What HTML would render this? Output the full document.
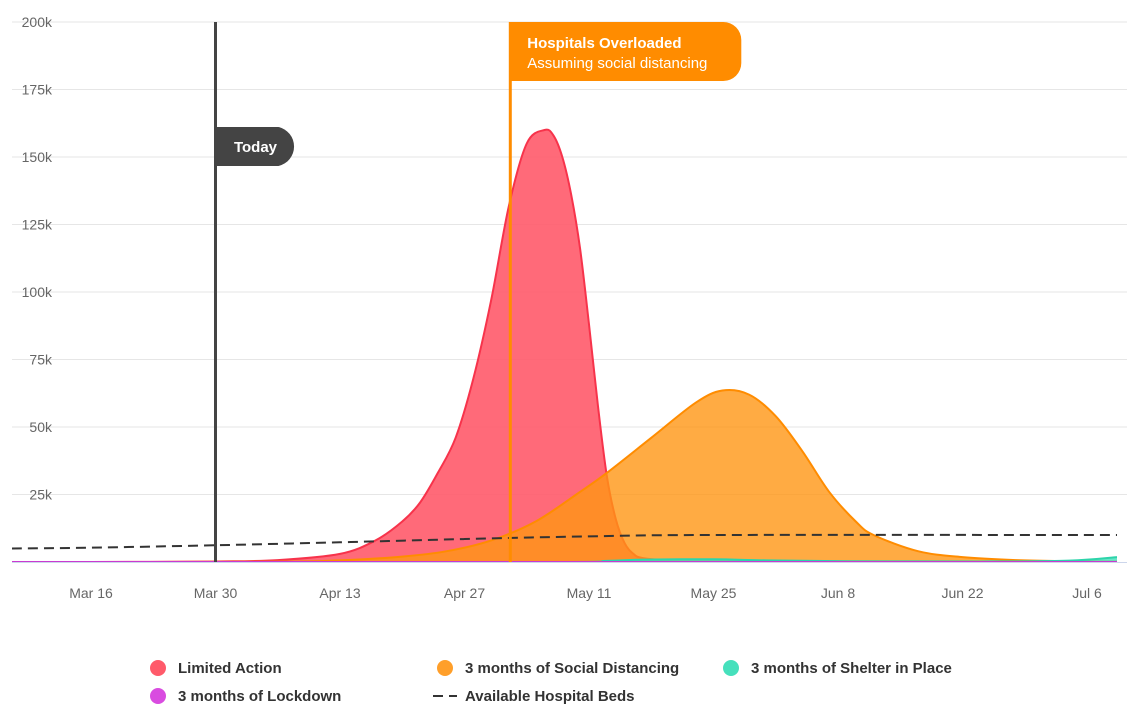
<!DOCTYPE html>
<html><head><meta charset="utf-8"><style>
body{margin:0;background:#fff;font-family:"Liberation Sans",sans-serif}
svg text{font-family:"Liberation Sans",sans-serif}
</style></head><body>
<svg id="chart" width="1135" height="718" viewBox="0 0 1135 718" xmlns="http://www.w3.org/2000/svg">
<g id="grid"></g><g id="series"></g><g id="axes"></g><g id="annot"></g><g id="legend"></g>
</svg>
<script>
const xTickLabels=["Mar 16","Mar 30","Apr 13","Apr 27","May 11","May 25","Jun 8","Jun 22","Jul 6"];
const yTicks=[0,25000,50000,75000,100000,125000,150000,175000,200000];
const yTickLabels=["","25k","50k","75k","100k","125k","150k","175k","200k"];
// days offset from Mar 16
const limitedDays=[-9,0,14,21,28,32,35,37,39,41,43,45,47,49,51,52,53,54,55,56,57,58,59,60,61,62,65,75,90,116];
const limitedVals=[0,0,200,700,3000,8000,15000,22000,33000,46000,68000,97000,132000,155000,160000,158000,150000,136000,116000,88000,58000,32000,16000,7000,3000,1500,800,300,100,0];
const socialDays=[-9,20,28,35,40,45,50,55,58,63,68,71,74,77,80,83,86,88,93,98,104,110,116];
const socialVals=[0,100,600,2000,4000,8000,15000,26000,33000,46000,59000,63500,62000,54000,41000,26000,15000,10000,4000,1800,700,300,200];
const shelterDays=[-9,50,58,62,70,76,85,100,110,116];
const shelterVals=[0,0,400,900,1000,600,300,200,500,1800];
const lockdownDays=[-9,116];
const lockdownVals=[0,0];
const bedsDays=[-9,0,14,28,42,56,70,116];
const bedsVals=[5000,5300,6200,7300,8500,9500,10000,10000];
const todayDay=14, overloadDay=47.15;

const X0=91, PXD=124.5/14, Y0=562, PYU=540/200000, L=12, R=1117;
const x=d=>X0+d*PXD, y=v=>Y0-v*PYU;
const NS="http://www.w3.org/2000/svg";
function el(t,a,p){const e=document.createElementNS(NS,t);for(const k in a)e.setAttribute(k,a[k]);if(p)p.appendChild(e);return e;}
function clampX(v){return Math.max(L,Math.min(R,v));}
function pathD(ds,vs){
  const p=ds.map((d,i)=>[clampX(x(d)),y(vs[i])]);
  let s="M"+p[0][0]+","+p[0][1];
  for(let i=0;i<p.length-1;i++){
    const p0=p[Math.max(0,i-1)],p1=p[i],p2=p[i+1],p3=p[Math.min(p.length-1,i+2)];
    const c1x=p1[0]+(p2[0]-p0[0])/6,c1y=p1[1]+(p2[1]-p0[1])/6;
    const c2x=p2[0]-(p3[0]-p1[0])/6,c2y=p2[1]-(p3[1]-p1[1])/6;
    s+=` C${c1x},${Math.min(Y0,c1y)} ${c2x},${Math.min(Y0,c2y)} ${p2[0]},${p2[1]}`;
  }
  return {s,first:p[0][0],last:p[p.length-1][0]};
}
const grid=document.getElementById('grid'),axes=document.getElementById('axes'),ser=document.getElementById('series'),an=document.getElementById('annot'),lg=document.getElementById('legend');
yTicks.forEach((v,i)=>{
  if(i>0){const g=el('line',{x1:L,x2:R+10,y1:y(v),y2:y(v),stroke:'#e6e6e6'},grid);
  }
  if(yTickLabels[i]){
  const t=el('text',{x:52,y:y(v)+5,'text-anchor':'end','font-size':14,fill:'#666'},axes);t.textContent=yTickLabels[i];
  }
});
const ax=el('line',{x1:L,x2:R+10,y1:Y0+0.5,y2:Y0+0.5,stroke:'#ccd6eb'},axes);

xTickLabels.forEach((lb,i)=>{
  const t=el('text',{x:x(i*14),y:598,'text-anchor':'middle','font-size':14,fill:'#666'},axes);t.textContent=lb;
  
});
function area(ds,vs,fill,stroke,op,name){
  const p=pathD(ds,vs);
  const a=el('path',{d:p.s+` L${p.last},${Y0} L${p.first},${Y0} Z`,fill:fill,'fill-opacity':op,stroke:'none'},ser);
  
  const l=el('path',{d:p.s,fill:'none',stroke:stroke,'stroke-width':2},ser);
  
}
area(limitedDays,limitedVals,'#ff5a6a','#f7334b',0.9,'limited-action');
area(socialDays,socialVals,'#ff9614','#ff8c00',0.8,'social-distancing');
area(shelterDays,shelterVals,'#46e0bc','#2dd4aa',0.8,'shelter-in-place');
area(lockdownDays,lockdownVals,'#d94ce0','#c93ad0',0.8,'lockdown');
const bp=pathD(bedsDays,bedsVals);
const bl=el('path',{d:bp.s,fill:'none',stroke:'#333','stroke-width':2,'stroke-dasharray':'10,6'},ser);

// annotations
const tl=el('line',{x1:x(todayDay),x2:x(todayDay),y1:22,y2:Y0,stroke:'#444','stroke-width':3},an);

const tx=x(todayDay);
const tf=el('path',{d:`M${tx},127 H${tx+63} A20,20 0 0 1 ${tx+63},166 H${tx} Z`,fill:'#444'},an);

const tt=el('text',{x:tx+40,y:152,'text-anchor':'middle','font-size':15,'font-weight':'bold',fill:'#fff'},an);tt.textContent='Today';

const ox=x(overloadDay);
const ol=el('line',{x1:ox,x2:ox,y1:22,y2:Y0,stroke:'#ff8c00','stroke-width':3},an);

const of=el('path',{d:`M${ox-1},22 H${ox+213} A18,18 0 0 1 ${ox+231},40 V63 A18,18 0 0 1 ${ox+213},81 H${ox-1} Z`,fill:'#ff8c00'},an);

const o1=el('text',{x:ox+17,y:48,'font-size':15,'font-weight':'bold',fill:'#fff'},an);o1.textContent='Hospitals Overloaded';

const o2=el('text',{x:ox+17,y:68,'font-size':15,fill:'#fff'},an);o2.textContent='Assuming social distancing';

// legend
const legendItems=[["Limited Action","#ff5a6a",158,668,"c"],["3 months of Social Distancing","#ff9f2a",445,668,"c"],["3 months of Shelter in Place","#46e0bc",731,668,"c"],["3 months of Lockdown","#d94ce0",158,696,"c"],["Available Hospital Beds","#333",445,696,"d"]];
legendItems.forEach(it=>{
  const g=el('g',{},lg);
  
  if(it[4]==="c"){el('circle',{cx:it[2],cy:it[3],r:8,fill:it[1]},g);}
  else{el('line',{x1:it[2]-12,x2:it[2]+12,y1:it[3],y2:it[3],stroke:'#333','stroke-width':2,'stroke-dasharray':'10,6'},g);}
  const t=el('text',{x:it[2]+20,y:it[3]+5,'font-size':15,'font-weight':'bold',fill:'#333'},g);t.textContent=it[0];
});
</script>
</body></html>
